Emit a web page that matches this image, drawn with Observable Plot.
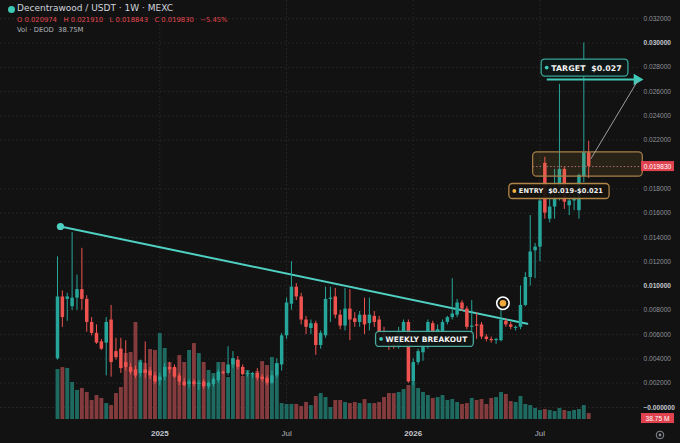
<!DOCTYPE html>
<html><head><meta charset="utf-8">
<script src="https://cdn.jsdelivr.net/npm/d3@7"></script>
<script src="https://cdn.jsdelivr.net/npm/@observablehq/plot@0.6"></script>
<style>
html,body{margin:0;padding:0;background:#121212;}
#wrap{position:relative;width:680px;height:443px;overflow:hidden;background:#121212;font-family:"DejaVu Sans",sans-serif;}
#hdr{position:absolute;left:0;top:0;pointer-events:none;}
#hdr .l1{position:absolute;left:17px;top:3px;font-size:9px;color:#d1d4dc;white-space:nowrap;}
#hdr .dot{position:absolute;left:8px;top:6px;width:7px;height:7px;border-radius:50%;background:#3ec9b4;}
#hdr .l2{position:absolute;left:17px;top:16px;font-size:6.8px;color:#e0464f;white-space:pre;}
#hdr .l3{position:absolute;left:17px;top:26px;font-size:6.8px;color:#b0b3b8;white-space:pre;}
</style></head>
<body><div id="wrap"><div id="chart"></div>
<div id="hdr"><span class="dot"></span><div class="l1" id="title"></div><div class="l2" id="ohlc"></div><div class="l3" id="vol"></div></div>
</div>
<script>
// ---------- data ----------
const title = "Decentrawood / USDT · 1W · MEXC";
const volumeName = "DEOD";
const startDate = "2024-08-12"; // first weekly bar
const opens = [
.0040,.0091,.0089,.0083,.0090,.0097,.0089,.0070,.0061,.0054,
.0053,.0072,.0046,.0048,.0037,.0033,.0031,.0028,.0031,.0030,
.0026,.0022,.0025,.0033,.0033,.0026,.0021,.0019,.0021,.0019,
.0021,.0017,.0019,.0022,.0029,.0028,.0035,.0039,.0033,.0027,
.0027,.0028,.0025,.0024,.0020,.0026,.0035,.0059,.0085,.0099,
.0091,.0072,.0065,.0069,.0051,.0059,.0089,.0091,.0076,.0067,
.0081,.0073,.0070,.0076,.0069,.0075,.0072,.0062,.0055,.0052,
.0050,.0062,.0070,.0021,.0037,.0045,.0051,.0069,.0062,.0062,
.0070,.0074,.0076,.0086,.0081,.0066,.0068,.0068,.0058,.0056,
.0055,.0055,.0071,.0068,.0065,.0066,.0084,.0107,.0129,.0132,
.0201,.0155,.0165,.0181,.0196,.0166,.0170,.0162,.0190,.020974];
const highs = [
.0124,.0096,.0094,.0144,.0109,.0131,.0092,.0074,.0068,.0056,
.0074,.0084,.0057,.0057,.0055,.0036,.0034,.0039,.0054,.0033,
.0029,.0028,.0036,.0037,.0035,.0028,.0024,.0023,.0023,.0022,
.0023,.0021,.0025,.0031,.0030,.0050,.0046,.0042,.0035,.0030,
.0029,.0032,.0027,.0026,.0030,.0040,.0061,.0090,.0120,.0102,
.0094,.0075,.0072,.0071,.0063,.0099,.0099,.0098,.0080,.0098,
.0097,.0078,.0079,.0090,.0090,.0079,.0075,.0066,.0060,.0058,
.0066,.0072,.0072,.0040,.0048,.0053,.0072,.0071,.0068,.0072,
.0075,.0106,.0089,.0088,.0083,.0088,.0078,.0070,.0060,.0058,
.0057,.0080,.0073,.0070,.0067,.0100,.0111,.0158,.0135,.0178,
.0206,.0176,.0196,.0266,.0198,.0175,.0176,.0192,.0300,.021910];
const lows = [
.0039,.0066,.0071,.0080,.0080,.0080,.0062,.0059,.0052,.0047,
.0026,.0025,.0039,.0028,.0030,.0027,.0024,.0025,.0024,.0023,
.0019,.0018,.0022,.0028,.0024,.0018,.0017,.0016,.0017,.0014,
.0015,.0015,.0017,.0020,.0027,.0026,.0032,.0031,.0026,.0025,
.0024,.0022,.0021,.0018,.0019,.0024,.0030,.0056,.0080,.0088,
.0068,.0060,.0060,.0043,.0048,.0057,.0070,.0073,.0064,.0063,
.0055,.0066,.0066,.0060,.0063,.0066,.0057,.0050,.0047,.0048,
.0048,.0058,.0020,.0018,.0035,.0038,.0048,.0057,.0058,.0060,
.0068,.0072,.0074,.0079,.0064,.0057,.0056,.0056,.0054,.0053,
.0052,.0054,.0066,.0064,.0063,.0064,.0083,.0100,.0106,.0120,
.0155,.0152,.0155,.0170,.0163,.0158,.0162,.0155,.0185,.018843];
const closes = [
.0091,.0074,.0091,.0090,.0097,.0089,.0070,.0061,.0053,.0048,
.0070,.0037,.0041,.0032,.0033,.0029,.0026,.0037,.0028,.0026,
.0021,.0025,.0033,.0031,.0025,.0021,.0018,.0021,.0019,.0020,
.0017,.0020,.0023,.0029,.0028,.0035,.0040,.0033,.0027,.0027,
.0028,.0024,.0023,.0020,.0026,.0036,.0059,.0086,.0099,.0091,
.0072,.0066,.0069,.0051,.0061,.0089,.0090,.0076,.0067,.0081,
.0072,.0070,.0076,.0068,.0076,.0070,.0062,.0055,.0052,.0050,
.0062,.0070,.0021,.0037,.0046,.0051,.0070,.0062,.0064,.0070,
.0074,.0077,.0086,.0081,.0066,.0067,.0067,.0058,.0056,.0055,
.0056,.0072,.0068,.0066,.0066,.0084,.0107,.0128,.0132,.0170,
.0160,.0165,.0172,.0196,.0169,.0170,.0173,.0191,.020973,.019830];
const volumesM = [
325,338,332,241,189,202,176,124,156,137,
104,91,169,208,429,436,631,384,364,455,
449,559,462,371,332,416,371,449,494,429,
371,319,299,371,371,273,397,384,280,319,
293,312,377,351,403,364,104,98,98,98,
85,111,91,150,169,143,78,124,124,111,
104,111,104,130,104,104,111,143,169,169,
176,195,221,241,202,176,156,137,143,156,
124,130,111,98,104,137,124,130,98,137,
143,176,163,117,111,150,98,91,72,59,
65,59,52,72,59,52,59,65,91,38.75];
const yTicks = [0,0.002,0.004,0.006,0.008,0.010,0.012,0.014,0.016,0.018,0.022,0.024,0.026,0.028,0.030,0.032];
const yTickLabels = ["−0.000000","0.002000","0.004000","0.006000","0.008000","0.010000","0.012000","0.014000","0.016000","0.018000","0.022000","0.024000","0.026000","0.028000","0.030000","0.032000"];
const yBoldTicks = [0,0.010,0.030];
const xTickStarts = ["2025-01-01","2025-07-01","2026-01-01","2026-07-01"];
const xTickLabels = ["2025","Jul","2026","Jul"];
const xTickBold = [true,false,true,false];
const entryLow = 0.019, entryHigh = 0.021, target = 0.027;
const entryText = "ENTRY  $0.019-$0.021", targetText = "TARGET  $0.027", breakoutText = "WEEKLY BREAKOUT";
// trendline and annotation anchors: [week index, price]
const trendPts = [[0.6,0.0149],[96.4,0.00689]];
const breakoutMarker = [91.4,0.00858];

// ---------- build ----------
const d0 = new Date(startDate + "T00:00:00Z");
const WEEK = 7*864e5;
const dateAt = i => new Date(+d0 + i*WEEK);
const rows = opens.map((o,i)=>({date:dateAt(i),o,h:highs[i],l:lows[i],c:closes[i],v:volumesM[i]}));
const last = rows[rows.length-1];
const n = rows.length;
const UP="#26a69a", DOWN="#ef5350", VUP="#1e6a60", VDOWN="#833b3d";
const VOL_BASE=-0.00099, VOL_K=1.266e-5;
const col = d => d.c>=d.o?UP:DOWN;
const xTicks = xTickStarts.map((s,k)=>{const t=new Date(s+"T00:00:00Z");const r=rows.find(r=>r.date>=t);return {date:r.date,label:xTickLabels[k],bold:xTickBold[k]};});
const FONT="DejaVu Sans";

const chart = Plot.plot({
  width:680,height:443,marginTop:0,marginBottom:23,marginLeft:0,marginRight:40,
  style:{background:"#121212",color:"#9a9da5",fontFamily:FONT},
  x:{type:"utc",domain:[rows[0].date,last.date],range:[57,588.2],axis:null},
  y:{domain:[-0.00107,0.0335],axis:null},
  marks:[
    Plot.ruleY(yTicks,{stroke:"#2a2a2a",strokeDasharray:"1.5,2.5"}),
    Plot.ruleX(xTicks,{x:"date",stroke:"#2a2a2a",strokeDasharray:"1.5,2.5"}),
    Plot.ruleX(rows,{x:"date",y1:()=>VOL_BASE,y2:d=>VOL_BASE+d.v*VOL_K,stroke:d=>d.c>=d.o?VUP:VDOWN,strokeWidth:3.9}),
    Plot.line(trendPts.map(p=>({date:dateAt(p[0]),p:p[1]})),{x:"date",y:"p",stroke:"#4fd0c3",strokeWidth:2}),
    Plot.ruleX(rows,{x:"date",y1:"l",y2:"h",stroke:col,strokeWidth:1}),
    Plot.ruleX(rows,{x:"date",y1:"o",y2:d=>Math.abs(d.c-d.o)<0.00009?d.o+(d.c>=d.o?0.00009:-0.00009):d.c,stroke:col,strokeWidth:3.5}),
    Plot.rect([{}],{x1:()=>dateAt(97.6),x2:()=>dateAt(120.1),y1:()=>entryLow,y2:()=>entryHigh,fill:"#c8913a",fillOpacity:0.13,stroke:"#a8804a",strokeWidth:1.2,rx:4}),
    Plot.ruleY([last.c],{x1:()=>dateAt(97.6),x2:()=>dateAt(120.1),stroke:"#b07070",strokeDasharray:"1.5,2"}),
    Plot.ruleY([target],{x1:()=>dateAt(100.5),x2:()=>dateAt(118.6),stroke:"#3fc9b6",strokeWidth:2}),
    Plot.dot([target],{x:()=>dateAt(118.9),y:d=>d,symbol:"triangle",rotate:90,r:4.2,fill:"#3fc9b6"}),
    Plot.line([{i:109.5,p:0.0205},{i:119.0,p:0.02686}],{x:d=>dateAt(d.i),y:"p",stroke:"#9e9e9e",strokeWidth:1}),
    Plot.dot([trendPts[0]],{x:p=>dateAt(p[0]),y:p=>p[1],r:3.6,fill:"#4fd0c3"}),
    Plot.dot([breakoutMarker],{x:p=>dateAt(p[0]),y:p=>p[1],r:6.2,fill:"#121212",stroke:"#ffffff",strokeWidth:1.6}),
    Plot.dot([breakoutMarker],{x:p=>dateAt(p[0]),y:p=>p[1],r:3.3,fill:"#f2a93b"}),
    Plot.text(yTicks.filter(t=>!yBoldTicks.includes(t)),{y:d=>d,text:d=>yTickLabels[yTicks.indexOf(d)],frameAnchor:"right",dx:3,textAnchor:"start",fill:"#8e9199",fontSize:6.6,fontFamily:"Liberation Sans"}),
    Plot.text(yBoldTicks,{y:d=>d,text:d=>yTickLabels[yTicks.indexOf(d)],frameAnchor:"right",dx:3,textAnchor:"start",fill:"#c4c7cf",fontSize:6.6,fontWeight:"bold",fontFamily:"Liberation Sans"}),
    Plot.text(xTicks.filter(t=>t.bold),{x:"date",text:"label",frameAnchor:"bottom",dy:15,fill:"#c4c7cf",fontSize:8,fontWeight:"bold",fontFamily:"Liberation Sans"}),
    Plot.text(xTicks.filter(t=>!t.bold),{x:"date",text:"label",frameAnchor:"bottom",dy:15,fill:"#b2b5bd",fontSize:8,fontFamily:"Liberation Sans"})
  ]
});
document.getElementById("chart").append(chart);

// ---------- annotations through the plot's scales ----------
const sx = chart.scale("x"), sy = chart.scale("y");
const svg = d3.select(chart);
function tagBox(idx, price, text, color, fill, dotColor, fs, h){
  const cx = sx.apply(dateAt(idx)), cy = sy.apply(price);
  const g = svg.append("g");
  const rect = g.append("rect");
  const t = g.append("text").text(text).attr("font-family",FONT).attr("font-weight","bold")
    .attr("font-size",fs).attr("fill","#f2f2f2").attr("letter-spacing",0.1)
    .attr("text-anchor","start").attr("dominant-baseline","central");
  const w = t.node().getComputedTextLength();
  const total = w + 16;
  const x0 = cx - total/2;
  rect.attr("x",x0).attr("y",cy-h/2).attr("width",total).attr("height",h).attr("rx",3.5)
    .attr("fill",fill).attr("fill-opacity",0.92).attr("stroke",color).attr("stroke-width",1.3);
  g.append("circle").attr("cx",x0+5.5).attr("cy",cy).attr("r",1.9).attr("fill",dotColor);
  t.attr("x",x0+10).attr("y",cy+0.5);
}
tagBox(108.25,0.02794,targetText,"#35a596","#0e1817","#3fc9b6",7.8,17);
tagBox(103.0,0.01778,entryText,"#b08548","#17130e","#f2b33d",6.6,15);
tagBox(75.4,0.0056,breakoutText,"#4aa89d","#101615","#3fc9b6",7.4,15);

function priceTag(cy, text){
  const g = svg.append("g");
  g.append("rect").attr("x",641).attr("y",cy-5).attr("width",33).attr("height",10).attr("fill","#e0434f");
  g.append("text").attr("x",657.5).attr("y",cy+0.5).attr("text-anchor","middle").attr("dominant-baseline","central")
    .attr("font-family","Liberation Sans").attr("font-size",6.6).attr("fill","#ffffff").text(text);
}
priceTag(sy.apply(last.c), last.c.toFixed(6));
priceTag(sy.apply(VOL_BASE) - 1, last.v.toFixed(2)+" M");
// settings glyph
svg.append("circle").attr("cx",660).attr("cy",435).attr("r",3.8).attr("fill","none").attr("stroke","#8a8d95").attr("stroke-width",1);
svg.append("circle").attr("cx",660).attr("cy",435).attr("r",1.4).attr("fill","#8a8d95");

// ---------- header ----------
const prev = rows[n-2].c;
const pct = ((last.c-prev)/prev*100).toFixed(2).replace("-","−");
document.getElementById("title").textContent = title;
document.getElementById("ohlc").textContent = `O ${last.o.toFixed(6)}   H ${last.h.toFixed(6)}   L ${last.l.toFixed(6)}   C ${last.c.toFixed(6)}   ${pct}%`;
document.getElementById("vol").textContent = `Vol · ${volumeName}  ${last.v.toFixed(2)}M`;
</script></body></html>
